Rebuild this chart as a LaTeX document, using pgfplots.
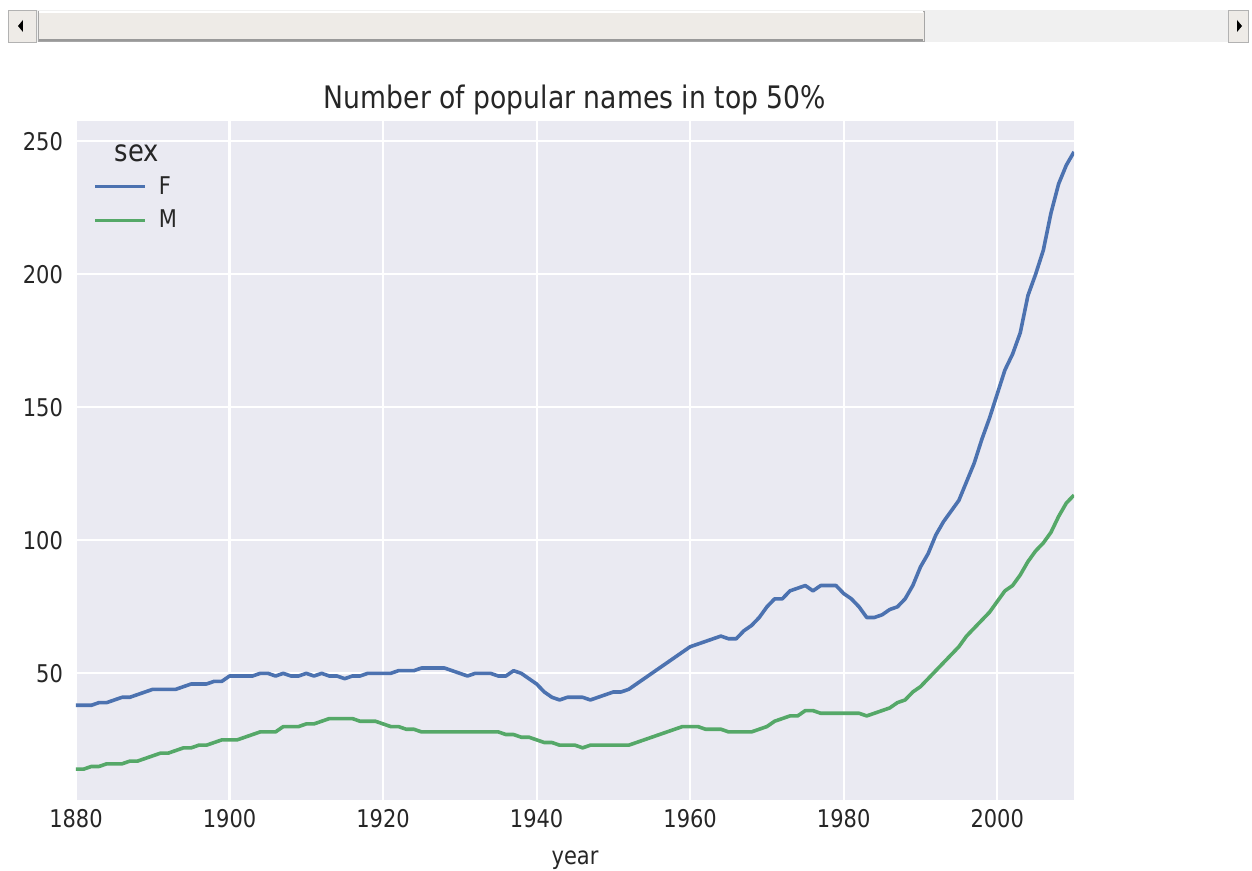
\documentclass[border=0pt]{standalone}
\usepackage{fontspec}
\setmainfont{DejaVu Sans}[FakeStretch=0.86]
\usepackage{pgfplots}
\usepackage{pgfplotstable}
\pgfplotsset{compat=1.18}
\definecolor{bgc}{HTML}{EAEAF2}
\definecolor{txt}{HTML}{262626}
\definecolor{cF}{HTML}{4C72B0}
\definecolor{cM}{HTML}{55A868}
\definecolor{sbar}{HTML}{EEEBE7}
\newcommand\tickfont{\fontsize{12.2}{14}\selectfont}
\newcommand\titlefont{\fontsize{15.5}{18}\selectfont}
\pgfplotstableread{
year F M
1880 38 14
1881 38 14
1882 38 15
1883 39 15
1884 39 16
1885 40 16
1886 41 16
1887 41 17
1888 42 17
1889 43 18
1890 44 19
1891 44 20
1892 44 20
1893 44 21
1894 45 22
1895 46 22
1896 46 23
1897 46 23
1898 47 24
1899 47 25
1900 49 25
1901 49 25
1902 49 26
1903 49 27
1904 50 28
1905 50 28
1906 49 28
1907 50 30
1908 49 30
1909 49 30
1910 50 31
1911 49 31
1912 50 32
1913 49 33
1914 49 33
1915 48 33
1916 49 33
1917 49 32
1918 50 32
1919 50 32
1920 50 31
1921 50 30
1922 51 30
1923 51 29
1924 51 29
1925 52 28
1926 52 28
1927 52 28
1928 52 28
1929 51 28
1930 50 28
1931 49 28
1932 50 28
1933 50 28
1934 50 28
1935 49 28
1936 49 27
1937 51 27
1938 50 26
1939 48 26
1940 46 25
1941 43 24
1942 41 24
1943 40 23
1944 41 23
1945 41 23
1946 41 22
1947 40 23
1948 41 23
1949 42 23
1950 43 23
1951 43 23
1952 44 23
1953 46 24
1954 48 25
1955 50 26
1956 52 27
1957 54 28
1958 56 29
1959 58 30
1960 60 30
1961 61 30
1962 62 29
1963 63 29
1964 64 29
1965 63 28
1966 63 28
1967 66 28
1968 68 28
1969 71 29
1970 75 30
1971 78 32
1972 78 33
1973 81 34
1974 82 34
1975 83 36
1976 81 36
1977 83 35
1978 83 35
1979 83 35
1980 80 35
1981 78 35
1982 75 35
1983 71 34
1984 71 35
1985 72 36
1986 74 37
1987 75 39
1988 78 40
1989 83 43
1990 90 45
1991 95 48
1992 102 51
1993 107 54
1994 111 57
1995 115 60
1996 122 64
1997 129 67
1998 138 70
1999 146 73
2000 155 77
2001 164 81
2002 170 83
2003 178 87
2004 192 92
2005 200 96
2006 209 99
2007 223 103
2008 234 109
2009 241 114
2010 246 117
}\names
\begin{document}
\begin{tikzpicture}
\useasboundingbox (-38pt,-35.5pt) rectangle (588pt,400pt);
% window scrollbar (screenshot chrome)
\begin{scope}[shift={(-38pt,400pt)}, x=0.5pt, y=-0.5pt]
  \fill[gray!12] (8,10) rectangle (1248,42);
  \draw[gray!60, fill=sbar] (8,10) rectangle (36,42);
  \fill[black] (18,26) -- (23,20) -- (23,32) -- cycle;
  \draw[gray!70, fill=sbar] (38,11) rectangle (924,41);
  \draw[white, line width=1pt] (39,12) -- (923,12);
  \draw[gray!80, line width=1pt] (39,40) -- (923,40);
  \draw[gray!60, fill=sbar] (1228,10) rectangle (1248,42);
  \fill[black] (1242,26) -- (1237,20) -- (1237,32) -- cycle;
\end{scope}
\begin{axis}[
  at={(0,0)}, anchor=south west,
  scale only axis, width=499pt, height=339.5pt,
  xmin=1880, xmax=2010, ymin=2.4, ymax=257.6,
  axis background/.style={fill=bgc},
  axis line style={draw=none},
  grid=major, major grid style={white, line width=1.1pt},
  tick style={draw=none},
  xtick={1880,1900,...,2000}, ytick={50,100,...,250},
  /pgf/number format/1000 sep={},
  /pgf/number format/assume math mode=true,
  ticklabel style={font=\tickfont, text=txt},
  xticklabel style={anchor=north, yshift=-1pt},
  yticklabel style={anchor=east, xshift=-3pt},
  title={Number of popular names in top 50\%},
  title style={font=\titlefont, text=txt, yshift=-6.5pt},
  xlabel={year},
  xlabel style={font=\tickfont, text=txt, at={(axis description cs:0.5,0)}, anchor=base, yshift=-32.5pt},
  legend style={at={(axis description cs:0.011,0.931)}, anchor=north west, draw=none, fill=none,
    font=\tickfont, text=txt, row sep=2.5pt, column sep=4pt,
    nodes={inner sep=2pt}},
  legend cell align=left,
  legend image code/.code={\draw[#1] (0pt,0pt) -- (25pt,0pt);},
]
\addplot[cF, line width=1.8pt, line join=round] table[x=year, y=F] {\names};
\addlegendentry{F}
\addplot[cM, line width=1.8pt, line join=round] table[x=year, y=M] {\names};
\addlegendentry{M}
\node[font=\fontsize{15}{18}\selectfont, text=txt, anchor=center] at (rel axis cs:0.0611,0.953) {sex};
\end{axis}
\end{tikzpicture}
\end{document}
